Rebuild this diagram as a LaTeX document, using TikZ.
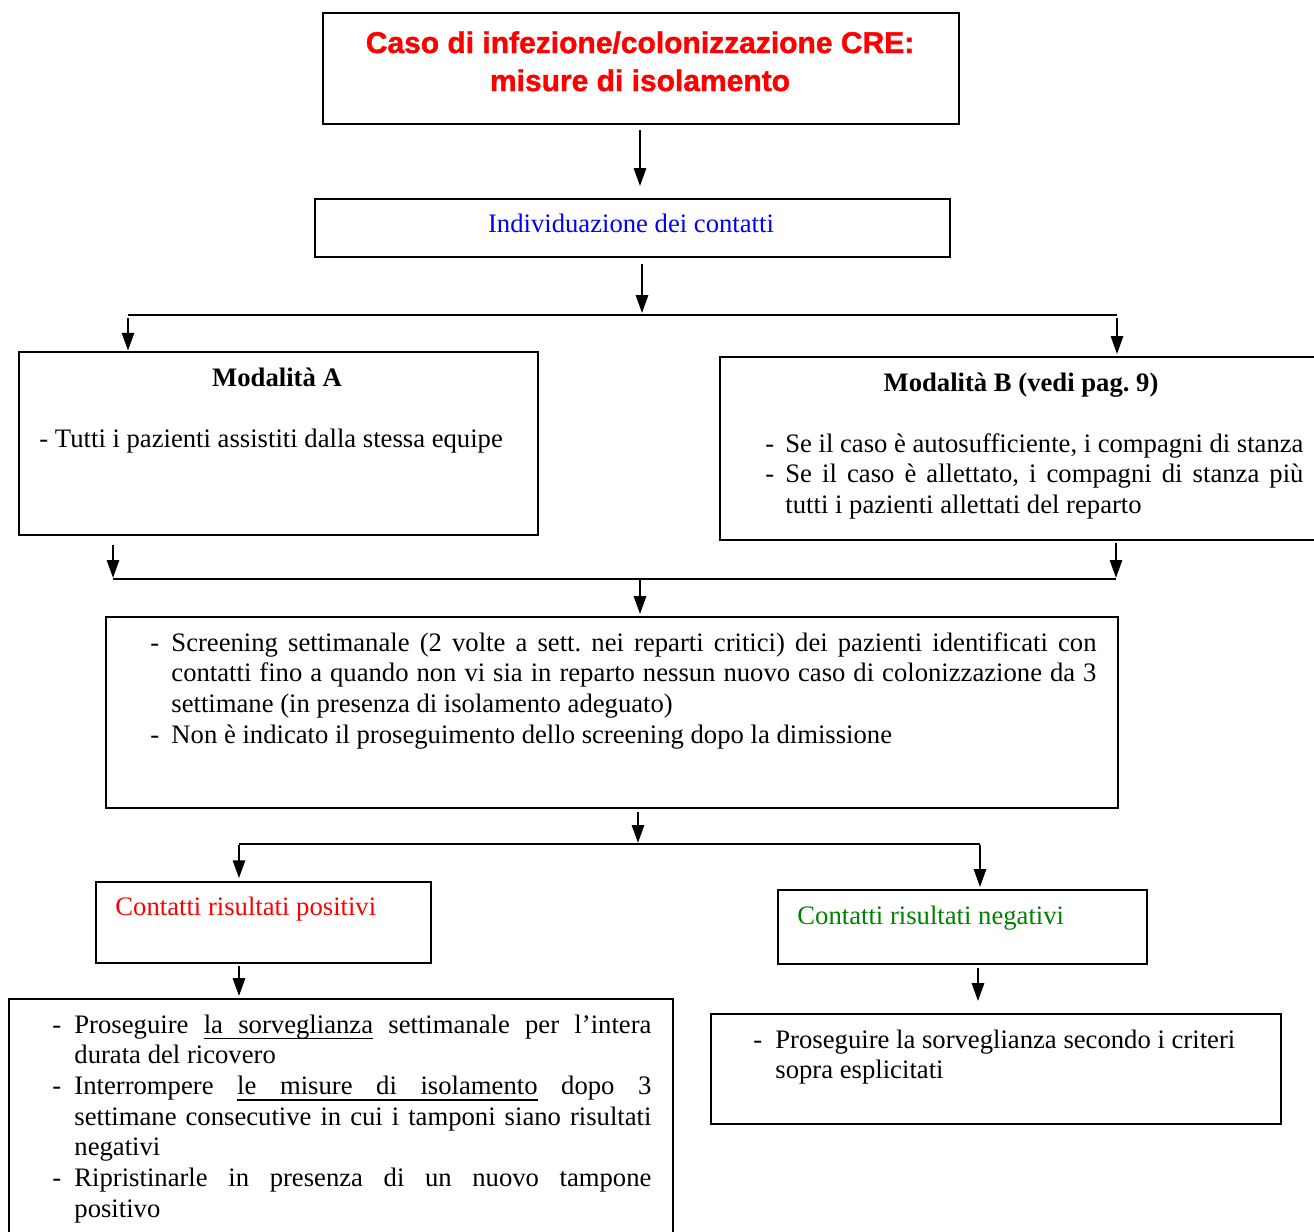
\documentclass[tikz,border=0pt]{standalone}
\usepackage{fontspec}
\setmainfont{Liberation Serif}
\newfontfamily\titlefont[BoldFeatures={FakeBold=1.3}]{Liberation Sans}
\usetikzlibrary{arrows.meta}
\definecolor{myred}{RGB}{255,0,0}
\definecolor{myblue}{RGB}{0,0,255}
\definecolor{mygreen}{RGB}{0,128,0}
\frenchspacing
\newcommand\ulword[1]{\setbox0\hbox{#1}\rlap{\vrule height -2.3pt depth 2.9pt width \wd0}\box0\relax}
\newcommand\ulsp{\leaders\vrule height -2.3pt depth 2.9pt\hskip\fontdimen2\font plus\fontdimen3\font minus\fontdimen4\font\relax}
\tikzset{
 box/.style={draw, line width=0.9pt, rectangle, inner sep=0pt, anchor=north west},
 arr/.style={line width=0.9pt, -{Triangle[length=8pt,width=5.5pt]}},
 bar/.style={line width=0.9pt},
 txt/.style={anchor=base west, inner sep=0pt, font=\fontsize{12}{13.8}\selectfont\frenchspacing},
 txtc/.style={anchor=base, inner sep=0pt, font=\fontsize{12}{13.8}\selectfont},
 ttl/.style={anchor=base, inner sep=0pt, text=myred, font=\titlefont\bfseries\fontsize{13.5}{17}\selectfont},
}
\begin{document}
\begin{tikzpicture}[x=0.45pt,y=-0.45pt]
\useasboundingbox (0,0) rectangle (1314,1231);
% boxes
\node[box, minimum width=636*0.45pt, minimum height=111*0.45pt] (t) at (322,12) {};
\node[box, minimum width=635*0.45pt, minimum height=58*0.45pt] (ind) at (314,198) {};
\node[box, minimum width=519*0.45pt, minimum height=183*0.45pt] (ma) at (18,351) {};
\node[box, minimum width=604*0.45pt, minimum height=183*0.45pt] (mb) at (719,356) {};
\node[box, minimum width=1012*0.45pt, minimum height=191*0.45pt] (scr) at (105,616) {};
\node[box, minimum width=335*0.45pt, minimum height=81*0.45pt] (pos) at (95,881) {};
\node[box, minimum width=369*0.45pt, minimum height=74*0.45pt] (neg) at (777,889) {};
\node[box, minimum width=664*0.45pt, minimum height=245*0.45pt] (posd) at (8,998) {};
\node[box, minimum width=570*0.45pt, minimum height=110*0.45pt] (negd) at (710,1013) {};
% texts
\node[ttl] (t1) at (640,53) {Caso di infezione/colonizzazione CRE:};
\node[ttl] (t2) at (640,91) {misure di isolamento};
\node[txtc, text=myblue] (indt) at (631,232) {Individuazione dei contatti};
\node[txtc] (mat) at (277,386) {\bfseries Modalità A};
\node[txt] (mal) at (39,447) {- Tutti i pazienti assistiti dalla stessa equipe};
\node[txtc] (mbt) at (1021,391) {\bfseries Modalità B (vedi pag. 9)};
\node[txt] (mbl) at (765,452) {\vtop{\hsize=250pt
 \hbox{\hbox to 9pt{-\hss}\hbox to 233.1pt{Se il caso è autosufficiente, i compagni di stanza}}
 \hbox{\hbox to 9pt{-\hss}\hbox to 233.1pt{Se il caso è allettato, i compagni di stanza più}}
 \hbox{\hbox to 9pt{\hss}tutti i pazienti allettati del reparto}}};
\node[txt] (scrl) at (150,651) {\vtop{\hsize=430pt
 \hbox{\hbox to 9.45pt{-\hss}\hbox to 416.25pt{Screening settimanale (2 volte a sett. nei reparti critici) dei pazienti identificati con}}
 \hbox{\hbox to 9.45pt{\hss}\hbox to 416.25pt{contatti fino a quando non vi sia in reparto nessun nuovo caso di colonizzazione da 3}}
 \hbox{\hbox to 9.45pt{\hss}settimane (in presenza di isolamento adeguato)}
 \hbox{\hbox to 9.45pt{-\hss}Non è indicato il proseguimento dello screening dopo la dimissione}}};
\node[txt, text=myred] (post) at (115,915) {Contatti risultati positivi};
\node[txt, text=mygreen] (negt) at (797,924) {Contatti risultati negativi};
\node[txt] (posl) at (52,1033) {\vtop{\hsize=280pt
 \hbox{\hbox to 9.9pt{-\hss}\hbox to 259.65pt{Proseguire \ulword{la}\ulsp\ulword{sorveglianza} settimanale per l’intera}}
 \hbox{\hbox to 9.9pt{\hss}durata del ricovero}
 \hbox{\hbox to 9.9pt{-\hss}\hbox to 259.65pt{Interrompere \ulword{le}\ulsp\ulword{misure}\ulsp\ulword{di}\ulsp\ulword{isolamento} dopo 3}}
 \hbox{\hbox to 9.9pt{\hss}\hbox to 259.65pt{settimane consecutive in cui i tamponi siano risultati}}
 \hbox{\hbox to 9.9pt{\hss}negativi}
 \hbox{\hbox to 9.9pt{-\hss}\hbox to 259.65pt{Ripristinarle in presenza di un nuovo tampone}}
 \hbox{\hbox to 9.9pt{\hss}positivo}}};
\node[txt] (negl) at (753,1048) {\vtop{\hsize=260pt
 \hbox{\hbox to 9.9pt{-\hss}Proseguire la sorveglianza secondo i criteri}
 \hbox{\hbox to 9.9pt{\hss}sopra esplicitati}}};
% junctions
\coordinate (j1) at (642,315);
\coordinate (j1l) at (128,315);
\coordinate (j1r) at (1117,315);
\coordinate (j2) at (640,579);
\coordinate (j2l) at (113,579);
\coordinate (j2r) at (1116,579);
\coordinate (j3) at (638,844);
\coordinate (j3l) at (239,844);
\coordinate (j3r) at (980,844);
% connectors
\draw[arr, shorten <=2.25pt, shorten >=5.4pt] ([xshift=-0.45pt]t.south) -- ([xshift=-0.45pt]t.south |- ind.north);
\draw[arr, shorten <=2.7pt, shorten >=0.9pt] (ind.south -| j1) -- (j1);
\draw[bar] (j1l) -- (j1r);
\draw[arr, shorten <=1.3pt, shorten >=0.2pt] (j1l) -- (j1l |- ma.north);
\draw[arr, shorten <=1.3pt, shorten >=0.9pt] (j1r) -- (j1r |- mb.north);
\draw[arr, shorten <=4pt, shorten >=0.5pt] (ma.south -| j2l) -- (j2l);
\draw[arr, shorten <=1pt, shorten >=0.5pt] (mb.south -| j2r) -- (j2r);
\draw[bar] (j2l) -- (j2r);
\draw[arr, shorten <=0.5pt, shorten >=0.9pt] (j2) -- (j2 |- scr.north);
\draw[arr, shorten <=1.3pt, shorten >=0.5pt] (scr.south -| j3) -- (j3);
\draw[bar] (j3l) -- (j3r);
\draw[arr, shorten <=0.5pt, shorten >=1.3pt] (j3l) -- (j3l |- pos.north);
\draw[arr, shorten <=0.5pt, shorten >=0.9pt] (j3r) -- (j3r |- neg.north);
\draw[arr, shorten <=0.9pt, shorten >=0.9pt] (pos.south -| j3l) -- (j3l |- posd.north);
\draw[arr, shorten <=1.3pt, shorten >=5.4pt] ([xshift=-2*0.45pt]neg.south -| j3r) -- ([xshift=-2*0.45pt]j3r |- negd.north);
\end{tikzpicture}
\end{document}
